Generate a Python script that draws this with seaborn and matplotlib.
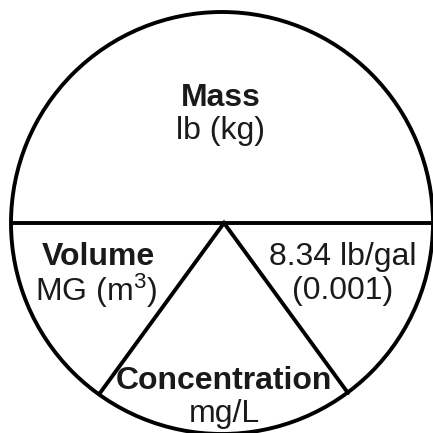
import matplotlib
matplotlib.use("Agg")
import matplotlib.pyplot as plt
import seaborn as sns
import numpy as np
from matplotlib.patches import Circle

sns.set_theme(style="white")
plt.rcParams['font.family'] = ['Liberation Sans', 'DejaVu Sans']
plt.rcParams['mathtext.fontset'] = 'custom'
plt.rcParams['mathtext.rm'] = 'Liberation Sans'
plt.rcParams['mathtext.it'] = 'Liberation Sans'

# Diagram content
titles = ["Mass", "Volume", "Concentration", ""]
units = ["lb (kg)", "MG (m$^\\mathrm{3}$)", "mg/L", "8.34 lb/gal\n(0.001)"]

W = H = 433
fig = plt.figure(figsize=(4.33, 4.33), dpi=100)
ax = fig.add_axes([0, 0, 1, 1])
ax.set_xlim(0, W)
ax.set_ylim(H, 0)
ax.set_aspect('equal')
ax.axis('off')

cx, cy, r = 222, 223, 211
lw = 2.8
ax.add_patch(Circle((cx, cy), r, fill=False, ec='black', lw=lw, clip_on=False))

# horizontal diameter
ax.plot([cx - r, cx + r], [cy, cy], color='black', lw=lw, solid_capstyle='butt')
# inverted V
apex = (224, 223)
ax.plot([100, apex[0], 348], [393, apex[1], 393], color='black', lw=lw,
        solid_joinstyle='miter')

fs = 23
tc = '#1a1a1a'
ax.text(221, 98, titles[0], ha='center', va='center', fontsize=fs, fontweight='bold', color=tc)
ax.text(221, 131, units[0], ha='center', va='center', fontsize=fs, color=tc)
ax.text(98, 257, titles[1], ha='center', va='center', fontsize=fs, fontweight='bold', color=tc)
ax.text(96, 291, units[1], ha='center', va='center', fontsize=fs, color=tc)
ax.text(224, 381, titles[2], ha='center', va='center', fontsize=fs, fontweight='bold', color=tc)
ax.text(224, 414, units[2], ha='center', va='center', fontsize=fs, color=tc)
ax.text(343, 274, units[3], ha='center', va='center', fontsize=fs, color=tc, linespacing=1.2)

fig.savefig("out.png", dpi=100)
